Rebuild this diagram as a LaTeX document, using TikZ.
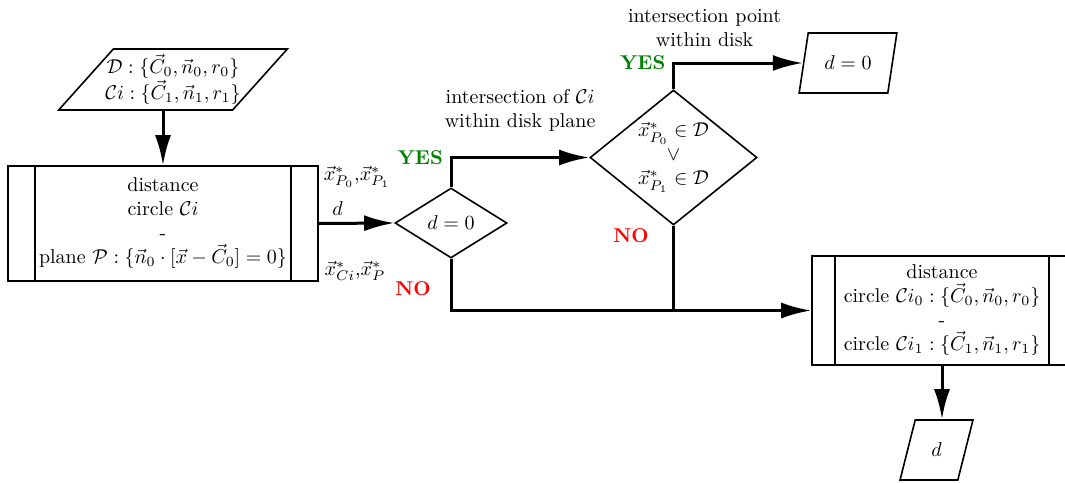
\documentclass[tikz,border=0pt]{standalone}
\usepackage{amssymb}
\usepackage{amsmath}
\usepackage{tikz}
\usetikzlibrary{arrows.meta,shapes.geometric}

\tikzset{
  flow/.style={line width=1.5pt,-{Latex[length=15pt,width=8pt]}},
  link/.style={line width=1.5pt},
  datain/.style={draw,thick,trapezium,trapezium stretches=true,align=center,inner sep=1pt},
  subproc/.style={draw,thick,rectangle,align=center,inner sep=1pt,
    path picture={
      \draw[thick] ([xshift=#1]path picture bounding box.north west) -- ([xshift=#1]path picture bounding box.south west)
        ([xshift=-#1]path picture bounding box.north east) -- ([xshift=-#1]path picture bounding box.south east);}},
  subproc/.default=12pt,
  decision/.style={draw,thick,diamond,align=center,inner sep=0pt},
  yes/.style={text=green!50!black,font=\bfseries},
  no/.style={text=red,font=\bfseries}
}

\begin{document}
\begin{tikzpicture}[x=0.5pt,y=-0.5pt]
    \useasboundingbox (0,0) rectangle (1065,482);
    % shapes
    \node[datain,trapezium left angle=45,trapezium right angle=135,inner xsep=-4pt,minimum width=100pt,minimum height=30.5pt] (in) at (173,79.5) {$\mathcal{D}:\{\vec{C}_0,\vec{n}_0,r_0\}$\\ $\mathcal{C}i:\{\vec{C}_1,\vec{n}_1,r_1\}$};
    \node[subproc=13.5pt,minimum width=155pt,minimum height=57.5pt] (dist) at (163,223.5) {distance\\ circle $\mathcal{C}i$\\ -\\ plane $\mathcal{P}:\{\vec{n}_0\cdot[\vec{x}-\vec{C}_0]=0\}$};
    \node[decision,aspect=1.6,minimum width=56pt,minimum height=35pt] (test) at (451,223) {$d=0$};
    \node[decision,aspect=1.24,minimum width=83.5pt,minimum height=67.5pt] (inside) at (673.5,157.5) {$\vec{x}^*_{P_0}\in\mathcal{D}$\\ $\vee$\\ $\vec{x}^*_{P_1}\in\mathcal{D}$};
    \node[datain,trapezium left angle=72,trapezium right angle=108,minimum width=49pt,minimum height=30pt] (zero) at (848,63) {$d=0$};
    \node[subproc=11.5pt,minimum width=130pt,minimum height=54.5pt] (dist2) at (942,310.5) {distance\\ circle $\mathcal{C}i_0:\{\vec{C}_0,\vec{n}_0,r_0\}$\\ -\\ circle $\mathcal{C}i_1:\{\vec{C}_1,\vec{n}_1,r_1\}$};
    \node[datain,trapezium left angle=74,trapezium right angle=106,minimum width=36.5pt,minimum height=30pt] (dout) at (936.5,450) {$d$};
    % outputs of the first distance
    \node (xp) at (357,177) {$\vec{x}^*_{P_0}$,$\vec{x}^*_{P_1}$};
    \node (xc) at (355,271) {$\vec{x}^*_{Ci}$,$\vec{x}^*_P$};
    % connectors
    \draw[flow] (in.south -| dist.north) -- (dist.north);
    \draw[flow] (dist.east) -- node[pos=0.25,above] (dlbl) {$d$} (test.west);
    \draw[flow] (test.north) |- node[yes,left] (yes1) {YES} node[pos=0.75,above=9pt,align=center] (lbl1) {intersection of $\mathcal{C}i$\\ within disk plane} (inside.west);
    \draw[flow] (inside.north) |- node[yes,left] (yes2) {YES} node[pos=0.62,above=4pt,align=center] (lbl2) {intersection point\\ within disk} (zero.west);
    \draw[flow] (test.south) |- (dist2.west);
    \draw[link] (inside.south) -- (inside.south |- dist2.west);
    \node[no] (no1) at (413,289) {NO};
    \node[no] (no2) at (631,236) {NO};
    \draw[flow] (dist2.south) -- (dist2.south |- dout.north);
\end{tikzpicture}
\end{document}
